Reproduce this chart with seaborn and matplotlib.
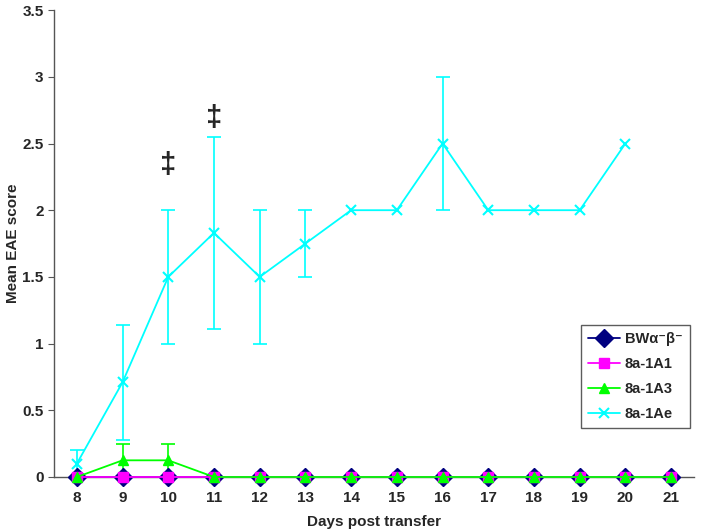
import matplotlib
matplotlib.use('Agg')
import matplotlib.pyplot as plt
from matplotlib.ticker import FixedLocator, NullFormatter
import seaborn as sns
import pandas as pd

days = list(range(8, 22))
bw_score = [0] * 14
a1_score = [0] * 14
a3_score = [0, 0.125, 0.125, 0, 0, 0, 0, 0, 0, 0, 0, 0, 0, 0]
a3_err = [0, 0.125, 0.125, 0, 0, 0, 0, 0, 0, 0, 0, 0, 0, 0]
ae_days = list(range(8, 21))
ae_score = [0.1, 0.71, 1.5, 1.83, 1.5, 1.75, 2, 2, 2.5, 2, 2, 2, 2.5]
ae_err = [0.1, 0.43, 0.5, 0.72, 0.5, 0.25, 0, 0, 0.5, 0, 0, 0, 0]

series = [
    ('BWα⁻β⁻', days, bw_score, None, '#000080', 'D', 9),
    ('8a-1A1', days, a1_score, None, '#FF00FF', 's', 7),
    ('8a-1A3', days, a3_score, a3_err, '#00FF00', '^', 7),
    ('8a-1Ae', ae_days, ae_score, ae_err, '#00FFFF', 'x', 7),
]

sns.set_style('white')
plt.rcParams['font.family'] = ['Liberation Sans', 'DejaVu Sans']
plt.rcParams['font.weight'] = 'bold'

fig = plt.figure(figsize=(7.01, 5.32), dpi=100)
ax = fig.add_axes([0.077, 0.1034, 0.913, 0.8776])

for name, x, y, err, color, marker, ms in series:
    df = pd.DataFrame({'day': x, 'score': y})
    if err is not None:
        xe = [d for d, e in zip(x, err) if e > 0]
        ye = [s for s, e in zip(y, err) if e > 0]
        ee = [e for e in err if e > 0]
        ax.errorbar(xe, ye, yerr=ee, fmt='none', ecolor=color, elinewidth=1.2,
                    capsize=5, capthick=1.2, zorder=2)
    sns.lineplot(data=df, x='day', y='score', ax=ax, color=color, marker=marker,
                 markersize=ms, markeredgecolor=color,
                 markeredgewidth=1.5 if marker == 'x' else 1,
                 linewidth=1.3, label=name, zorder=3, clip_on=False)

ax.text(10, 2.34, '‡', ha='center', va='center', fontsize=21, fontweight='bold')
ax.text(11, 2.69, '‡', ha='center', va='center', fontsize=21, fontweight='bold')

ax.set_xlim(7.5, 21.5)
ax.set_ylim(0, 3.5)
ax.set_xticks(days)
ax.set_xticklabels([str(d) for d in days], fontsize=11, fontweight='bold')
ax.xaxis.set_minor_locator(FixedLocator([d + 0.5 for d in range(7, 22)]))
ax.xaxis.set_minor_formatter(NullFormatter())
ax.tick_params(axis='x', which='major', length=0, pad=10)
ax.tick_params(axis='x', which='minor', length=4, direction='in', color='#555555')
ax.set_yticks([0, 0.5, 1, 1.5, 2, 2.5, 3, 3.5])
ax.set_yticklabels(['0', '0.5', '1', '1.5', '2', '2.5', '3', '3.5'],
                   fontsize=11, fontweight='bold')
ax.tick_params(axis='y', length=4, direction='out', color='#555555', left=True)

for side in ['top', 'right']:
    ax.spines[side].set_visible(False)
for side in ['left', 'bottom']:
    ax.spines[side].set_color('#555555')
    ax.spines[side].set_linewidth(1)

ax.set_xlabel('Days post transfer', fontsize=11, fontweight='bold', labelpad=7)
ax.set_ylabel('Mean EAE score', fontsize=11, fontweight='bold', labelpad=2)

leg = ax.legend(loc='upper right', bbox_to_anchor=(0.984, 0.389),
                bbox_transform=fig.transFigure, fancybox=False,
                frameon=True, edgecolor='#333333', fontsize=10.5, handlelength=2.2,
                handletextpad=0.3, labelspacing=0.75, borderpad=0.5,
                borderaxespad=0)
leg.get_frame().set_linewidth(1)
for t in leg.get_texts():
    t.set_fontweight('bold')

fig.savefig('out.png', dpi=100)
